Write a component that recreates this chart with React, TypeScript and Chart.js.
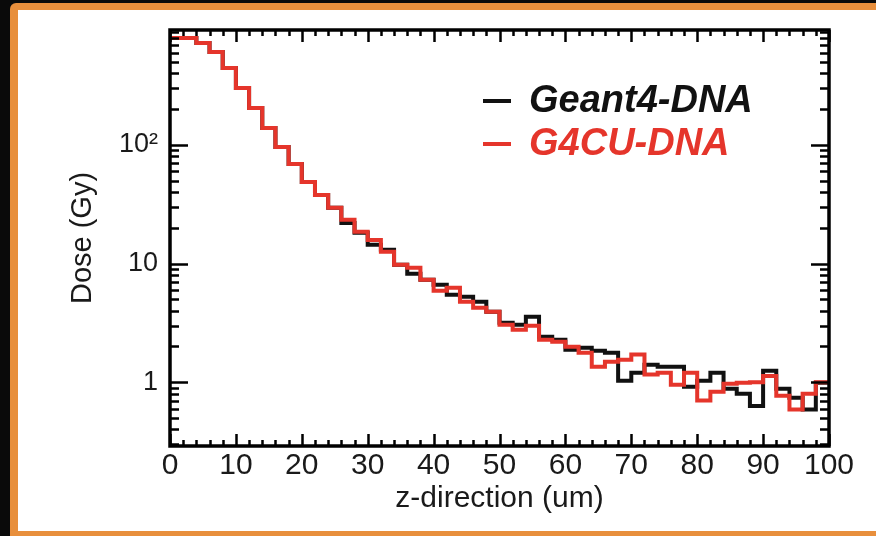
import React, { useEffect, useRef } from "react";
import { Chart, registerables } from "chart.js";

Chart.register(...registerables);

// ---- data ----
const BIN_STARTS = [
  0, 2, 4, 6, 8, 10, 12, 14, 16, 18, 20, 22, 24, 26, 28, 30, 32, 34, 36, 38,
  40, 42, 44, 46, 48, 50, 52, 54, 56, 58, 60, 62, 64, 66, 68, 70, 72, 74, 76, 78,
  80, 82, 84, 86, 88, 90, 92, 94, 96, 98,
];
const BIN_END = 100;

const GEANT4_DNA = [
  796, 796, 723, 607, 445, 302, 205, 139, 96.2, 69.2, 48.8, 37.9, 29.5, 22.0, 18.2,
  14.4, 13.1, 9.76, 8.2, 7.3, 6.62, 5.46, 5.25, 4.76, 3.92, 3.17, 3.05, 3.56, 2.42,
  2.28, 1.88, 1.95, 1.84, 1.77, 1.03, 1.2, 1.4, 1.35, 1.35, 0.917, 1.03, 1.2, 0.88,
  0.8, 0.63, 1.25, 0.88, 0.74, 0.59, 0.99,
];
const G4CU_DNA = [
  796, 796, 723, 607, 445, 302, 205, 139, 96.2, 69.2, 48.8, 37.9, 29.5, 23.4, 18.5,
  15.8, 12.6, 9.76, 9.21, 7.3, 5.9, 6.25, 4.76, 4.24, 3.92, 3.05, 2.77, 2.99, 2.28,
  2.19, 1.99, 1.77, 1.35, 1.49, 1.55, 1.71, 1.16, 1.2, 0.95, 1.2, 0.7, 0.83, 0.97,
  0.99, 1.0, 1.13, 0.77, 0.59, 0.8, 1.0,
];

const SERIES_LABELS = ["Geant4-DNA", "G4CU-DNA"];
const X_TICKS = [0, 10, 20, 30, 40, 50, 60, 70, 80, 90, 100];
const X_MINOR_STEP = 2;
const Y_TICKS = [1, 10, 100];
const Y_TICK_LABELS = ["1", "10", "10\u00B2"];
const Y_MIN = 0.29;
const Y_MAX = 930;
const X_TITLE = "z-direction (um)";
const Y_TITLE = "Dose (Gy)";

const BLACK = "#111111";
const RED = "#e5352b";
const FONT = '"Liberation Sans", Arial, Helvetica, sans-serif';

function toSteps(values: number[]) {
  const pts = BIN_STARTS.map((x, i) => ({ x, y: values[i] }));
  pts.push({ x: BIN_END, y: values[values.length - 1] });
  return pts;
}

const frameTicks = {
  id: "frameTicks",
  afterDatasetsDraw(chart: any) {
    const { ctx, chartArea: a, scales } = chart;
    const xs = scales.x;
    const ys = scales.y;
    ctx.save();
    ctx.strokeStyle = "#000";
    ctx.lineCap = "butt";
    ctx.lineWidth = 2.5;
    // x ticks (bottom + top), inward
    for (let v = xs.min; v <= xs.max + 1e-9; v += X_MINOR_STEP) {
      const px = Math.round(xs.getPixelForValue(v)) + 0.5;
      const major = X_TICKS.includes(Math.round(v));
      const len = major ? 12 : 6;
      ctx.beginPath();
      ctx.moveTo(px, a.bottom);
      ctx.lineTo(px, a.bottom - len);
      ctx.moveTo(px, a.top);
      ctx.lineTo(px, a.top + len);
      ctx.stroke();
    }
    // y ticks (left + right), inward
    const decades = [0.1, 1, 10, 100, 1000];
    for (const d of decades) {
      for (let m = 1; m <= 9; m++) {
        const v = m * d;
        if (v < ys.min || v > ys.max) continue;
        const py = Math.round(ys.getPixelForValue(v)) + 0.5;
        const len = m === 1 ? 18 : 9;
        ctx.beginPath();
        ctx.moveTo(a.left, py);
        ctx.lineTo(a.left + len, py);
        ctx.moveTo(a.right, py);
        ctx.lineTo(a.right - len, py);
        ctx.stroke();
      }
    }
    // frame
    ctx.lineWidth = 3.5;
    ctx.strokeRect(a.left, a.top, a.right - a.left, a.bottom - a.top);
    ctx.restore();
  },
};

const innerLegend = {
  id: "innerLegend",
  afterDraw(chart: any) {
    const { ctx, chartArea: a } = chart;
    ctx.save();
    const rows = chart.data.datasets.map((ds: any, i: number) => ({
      label: ds.label,
      color: ds.borderColor,
      y: a.top + 71 + i * 43,
    }));
    ctx.font = `italic bold 38px ${FONT}`;
    ctx.textBaseline = "middle";
    ctx.textAlign = "left";
    for (const r of rows) {
      ctx.strokeStyle = r.color;
      ctx.lineWidth = 4;
      ctx.beginPath();
      ctx.moveTo(a.left + 313, r.y);
      ctx.lineTo(a.left + 341, r.y);
      ctx.stroke();
      ctx.fillStyle = r.color;
      ctx.fillText(r.label, a.left + 359, r.y + 1);
    }
    ctx.restore();
  },
};

export default function App() {
  const canvasRef = useRef<HTMLCanvasElement | null>(null);

  useEffect(() => {
    const canvas = canvasRef.current;
    if (!canvas) return;
    const chart = new Chart(canvas, {
      type: "line",
      data: {
        datasets: [
          {
            label: SERIES_LABELS[0],
            data: toSteps(GEANT4_DNA),
            borderColor: BLACK,
            backgroundColor: BLACK,
            borderWidth: 4,
            pointRadius: 0,
            stepped: true,
            fill: false,
            order: 2,
          },
          {
            label: SERIES_LABELS[1],
            data: toSteps(G4CU_DNA),
            borderColor: RED,
            backgroundColor: RED,
            borderWidth: 4,
            pointRadius: 0,
            stepped: true,
            fill: false,
            order: 1,
          },
        ],
      },
      options: {
        responsive: false,
        animation: false,
        devicePixelRatio: 1,
        layout: { padding: { left: 0, top: 30, right: 47, bottom: 0 } },
        plugins: {
          legend: { display: false },
          tooltip: { enabled: false },
        },
        scales: {
          x: {
            type: "linear",
            min: 0,
            max: 100,
            afterBuildTicks: (s: any) => {
              s.ticks = X_TICKS.map((v) => ({ value: v }));
            },
            afterFit: (s: any) => {
              s.height = 90;
            },
            grid: { display: false, drawTicks: false },
            border: { display: false },
            ticks: {
              autoSkip: false,
              maxRotation: 0,
              padding: 2,
              color: "#1a1a1a",
              font: { size: 30, family: FONT },
            },
            title: {
              display: true,
              text: X_TITLE,
              color: "#1a1a1a",
              font: { size: 30, family: FONT },
              padding: { top: 0, bottom: 19 },
            },
          },
          y: {
            type: "logarithmic",
            min: Y_MIN,
            max: Y_MAX,
            afterBuildTicks: (s: any) => {
              s.ticks = Y_TICKS.map((v) => ({ value: v }));
            },
            afterFit: (s: any) => {
              s.width = 170;
            },
            grid: { display: false, drawTicks: false },
            border: { display: false },
            ticks: {
              autoSkip: false,
              padding: 12,
              color: "#1a1a1a",
              font: { size: 27, family: FONT },
              callback: (_v: any, i: number) => Y_TICK_LABELS[i],
            },
            title: {
              display: true,
              text: Y_TITLE,
              color: "#1a1a1a",
              font: { size: 29, family: FONT },
              padding: { top: 66, bottom: 0 },
            },
          },
        },
      },
      plugins: [frameTicks, innerLegend],
    } as any);
    return () => chart.destroy();
  }, []);

  return (
    <div
      style={{
        position: "fixed",
        left: 0,
        top: 0,
        width: 876,
        height: 536,
        background: "#0a0a0a",
        overflow: "hidden",
      }}
    >
      <div
        style={{
          position: "absolute",
          left: 10,
          top: 3,
          width: 880,
          height: 540,
          background: "#e88f3c",
          borderTopLeftRadius: 6,
        }}
      />
      <div
        style={{
          position: "absolute",
          left: 18,
          top: 10,
          width: 870,
          height: 521,
          background: "#ffffff",
        }}
      />
      <canvas
        ref={canvasRef}
        width={876}
        height={536}
        style={{ position: "absolute", left: 0, top: 0, width: 876, height: 536 }}
      />
    </div>
  );
}
